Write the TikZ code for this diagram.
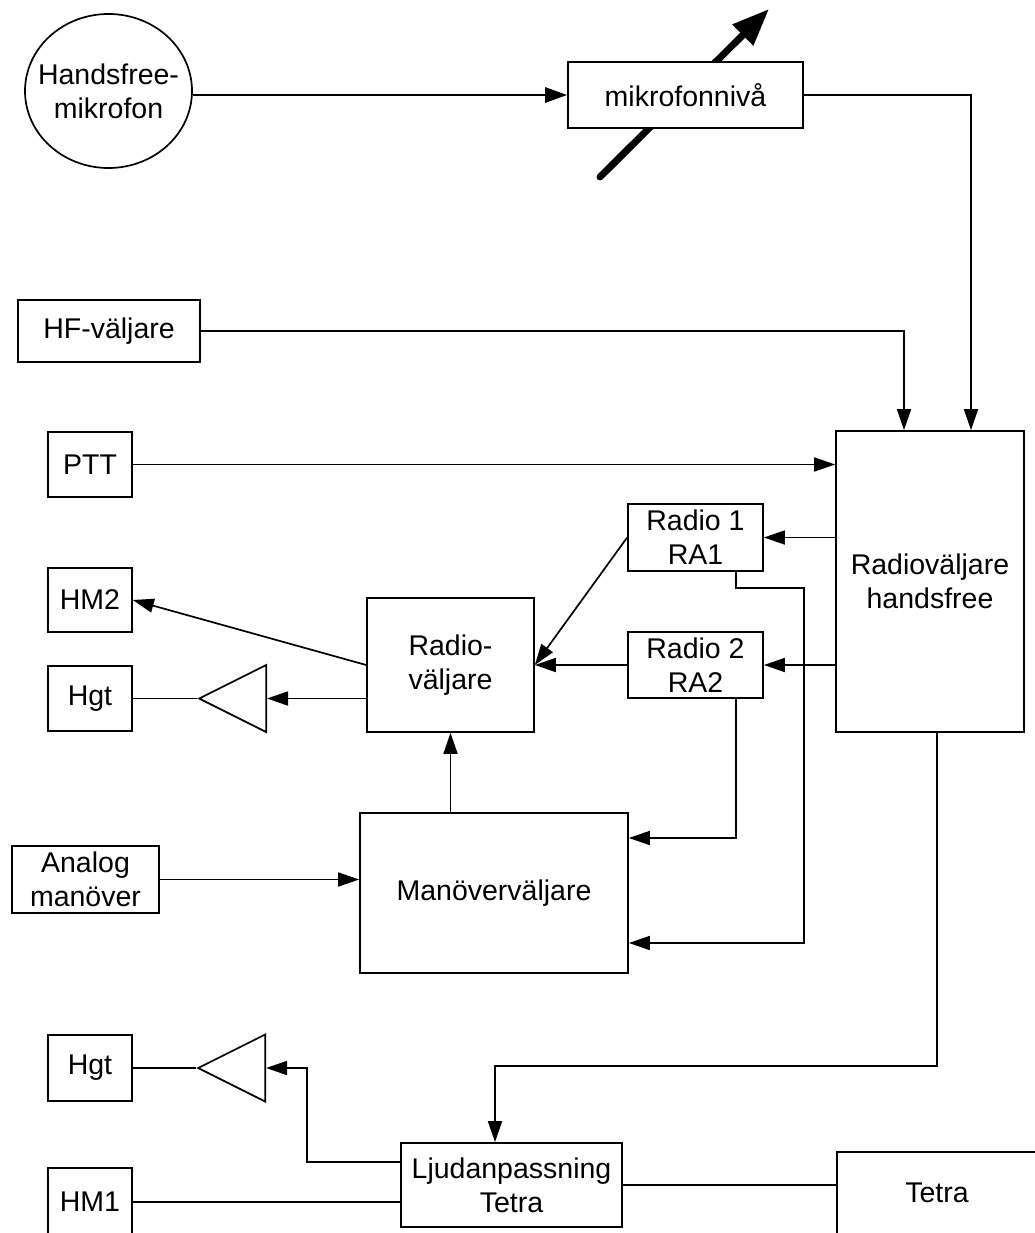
\documentclass[tikz,border=0pt]{standalone}
\usepackage{fontspec}
\setmainfont{Liberation Sans}
\usetikzlibrary{arrows.meta,shapes.geometric}

\begin{document}
\begin{tikzpicture}[x=1pt, y=-1pt, line width=1.7pt,
    txt/.style={align=center, font=\fontsize{28.5}{34}\selectfont},
    box/.style={draw, fill=white, rectangle, inner sep=0pt, txt},
    amp/.style={draw, isosceles triangle, shape border rotate=180,
                isosceles triangle apex angle=53.13, isosceles triangle stretches,
                minimum width=67pt, minimum height=67pt, inner sep=0pt},
    sig/.style={-{Triangle[length=21pt,width=14pt]}},
    micsig/.style={line width=2.8pt, -{Triangle[length=22pt,width=15pt]}},
    knob/.style={line width=7pt, line cap=round, -{Triangle[length=37pt,width=28pt]}}]
        \useasboundingbox (0,0) rectangle (1035,1233);
        \clip (0,0) rectangle (1035,1233);

        % inputs / top row
        \node [draw, ellipse, inner sep=0pt, minimum width=167pt, minimum height=154pt,
               label={[txt]center:Handsfree-\\mikrofon}]        (mic)    at (108.5,91)  {};
        \coordinate (knobfrom) at (600,177);                                   %
        \coordinate (knobto)   at (769,9);                                     %
        \draw [knob] (knobfrom) -- (knobto);                                   %behind the box
        \node [box, minimum width=235pt, minimum height=66pt]  (level)  at (685.5,95)  {mikrofonniv\aa};
        \node [box, minimum width=182pt, minimum height=62pt]  (hfsel)  at (109,331)   {HF-v\"aljare};
        \node [box, minimum width=84pt,  minimum height=65pt]  (ptt)    at (90,464.5)  {PTT};
        \node [box, minimum width=188pt, minimum height=301pt] (rvhf)   at (930,581.5) {Radiov\"aljare\\handsfree};

        % radio part
        \node [box, minimum width=135pt, minimum height=67pt]  (ra1)    at (695.5,537.5) {Radio 1\\RA1};
        \node [box, minimum width=135pt, minimum height=66pt]  (ra2)    at (695.5,665)   {Radio 2\\RA2};
        \node [box, minimum width=167pt, minimum height=134pt] (rv)     at (450.5,665)   {Radio-\\v\"aljare};
        \node [box, minimum width=84pt,  minimum height=64pt]  (hm2)    at (90,600)      {HM2};
        \node [amp, anchor=lower side]                         (amp1)   at (267,698.5)   {};
        \node [box, minimum width=84pt,  minimum height=65pt]  (hgt1)   at (90,698.5)    {Hgt};
        \node [box, minimum width=268pt, minimum height=160pt] (man)    at (494,893)     {Man\"overv\"aljare};
        \node [box, minimum width=147pt, minimum height=67pt]  (analog) at (85.5,879.5)  {Analog\\man\"over};

        % tetra part
        \node [amp, anchor=lower side]                         (amp2)   at (266,1068)    {};
        \node [box, minimum width=84pt,  minimum height=66pt]  (hgt2)   at (90,1068)     {Hgt};
        \node [box, minimum width=221pt, minimum height=84pt]  (ljud)   at (511.5,1185)  {Ljudanpassning\\Tetra};
        \node [box, minimum width=200pt, minimum height=82pt]  (tetra)  at (937,1193)    {Tetra};
        \node [box, minimum width=84pt,  minimum height=68pt]  (hm1)    at (90,1202)     {HM1};

        % connections
        \draw [micsig] (level.west -| mic.east) -- (level.west);                  %
        \draw [sig]    (level.east) -| ([xshift=41pt]rvhf.north);                 %
        \draw [sig]    (hfsel.east) -| ([xshift=-26pt]rvhf.north);                %
        \draw [sig]    (ptt.east) -- (ptt.east -| rvhf.west);                     %
        \draw [sig]    (ra1.east -| rvhf.west) -- (ra1.east);                     %
        \draw [sig]    (ra2.east -| rvhf.west) -- (ra2.east);                     %
        \draw [sig]    (ra1.west) -- (rv.east);                                   %
        \draw [sig]    (ra2.west) -- (rv.east);                                   %
        \draw [sig]    (rv.west) -- (hm2.east);                                   %
        \draw [sig]    (rv.west |- amp1.lower side) -- (amp1.lower side);         %
        \draw          (amp1.apex) -- (hgt1.east);                                %
        \draw [sig]    (rv.south |- man.north) -- (rv.south);                     %
        \draw [sig]    (analog.east) -- (analog.east -| man.west);                %
        \draw [sig]    ([xshift=40.5pt]ra2.south) |- ([yshift=55pt]man.east);     %RA2
        \draw [sig]    ([xshift=40.5pt]ra1.south) -- ++(0,16)
                       -| ([xshift=175pt,yshift=-50pt]man.east) -- ([yshift=-50pt]man.east); %RA1
        \draw [sig]    ([xshift=7pt]rvhf.south) -- ++(0,333) -| ([xshift=-16.5pt]ljud.north);
        \draw [sig]    ([yshift=23pt]ljud.west) -| ([xshift=41pt]amp2.lower side) -- (amp2.lower side);
        \draw          (amp2.apex) -- (hgt2.east);                                %
        \draw          (hm1.east) -- (hm1.east -| ljud.west);                     %
        \draw          (ljud.east) -- (ljud.east -| tetra.west);                  %
\end{tikzpicture}
\end{document}
